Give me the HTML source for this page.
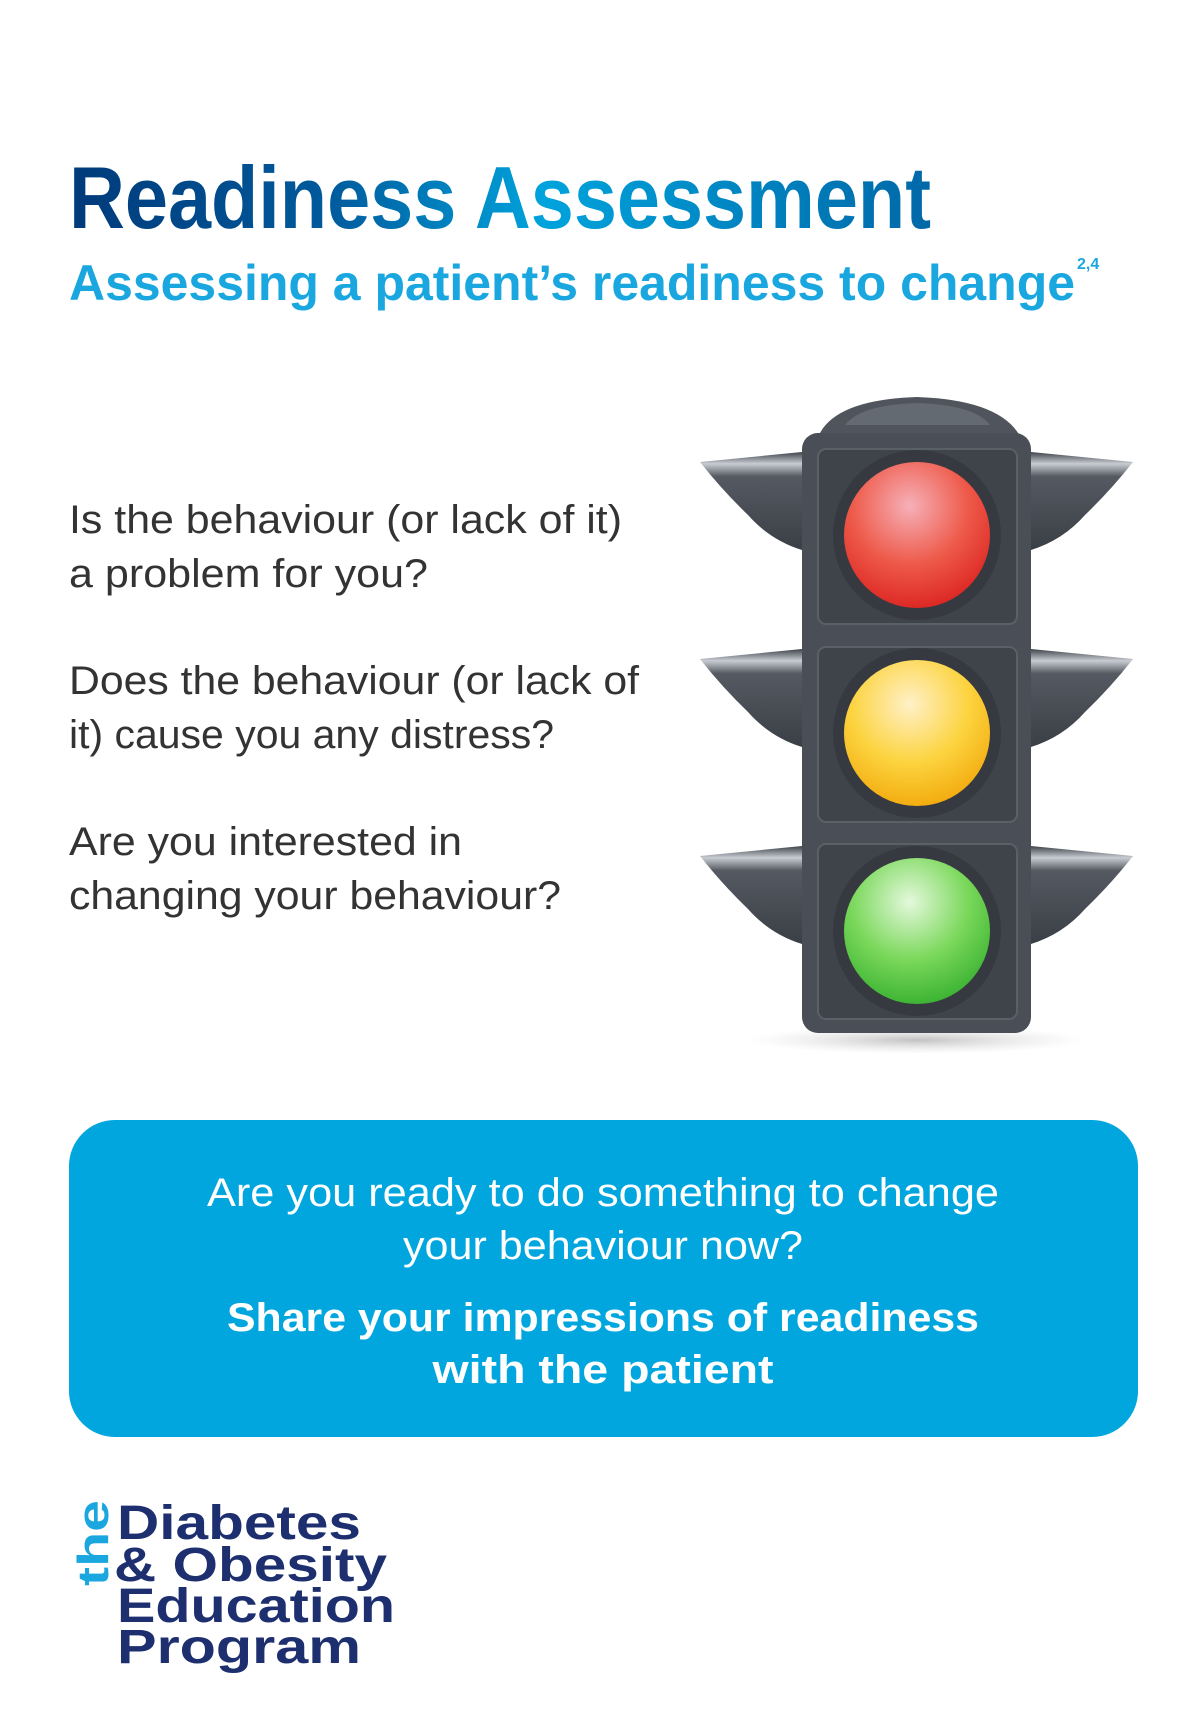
<!DOCTYPE html>
<html><head><meta charset="utf-8"><style>
html,body{margin:0;padding:0;background:#fff;}
svg{display:block;}
text{font-family:"Liberation Sans",sans-serif;}
</style></head><body>
<svg width="1200" height="1733" viewBox="0 0 1200 1733">
<defs>
<linearGradient id="tg" x1="69" x2="931" y1="0" y2="0" gradientUnits="userSpaceOnUse">
<stop offset="0" stop-color="#003a7a"/><stop offset="0.3" stop-color="#005a9c"/><stop offset="0.55" stop-color="#00a3dc"/><stop offset="1" stop-color="#0068a8"/></linearGradient>
<linearGradient id="vis" x1="0" x2="0" y1="0" y2="1"><stop offset="0" stop-color="#3e434a"/><stop offset="0.12" stop-color="#c8ccd2"/><stop offset="0.25" stop-color="#555a62"/><stop offset="1" stop-color="#3a3f46"/></linearGradient>
<radialGradient id="red" cx="0.45" cy="0.3" r="0.8"><stop offset="0" stop-color="#f6b0b8"/><stop offset="0.5" stop-color="#ee5a4a"/><stop offset="1" stop-color="#d81818"/></radialGradient>
<radialGradient id="yel" cx="0.45" cy="0.3" r="0.8"><stop offset="0" stop-color="#fff0c8"/><stop offset="0.5" stop-color="#fcd440"/><stop offset="1" stop-color="#f0a000"/></radialGradient>
<radialGradient id="grn" cx="0.45" cy="0.3" r="0.8"><stop offset="0" stop-color="#e4f8dc"/><stop offset="0.5" stop-color="#7ad85a"/><stop offset="1" stop-color="#2aa828"/></radialGradient>
<radialGradient id="sh" cx="0.5" cy="0.5" r="0.5"><stop offset="0" stop-color="#999" stop-opacity="0.6"/><stop offset="1" stop-color="#ccc" stop-opacity="0"/></radialGradient>
</defs>

<text x="69" y="228" font-size="88" font-weight="bold" fill="url(#tg)" textLength="862" lengthAdjust="spacingAndGlyphs">Readiness Assessment</text>
<text x="69" y="300" font-size="50" font-weight="bold" fill="#1aa7e0" textLength="1006" lengthAdjust="spacingAndGlyphs">Assessing a patient’s readiness to change</text>
<text x="1077" y="269" font-size="16" font-weight="bold" fill="#1aa7e0">2,4</text>

<g font-size="40" fill="#333">
<text x="69" y="533" textLength="553" lengthAdjust="spacingAndGlyphs">Is the behaviour (or lack of it)</text>
<text x="69" y="587" textLength="359" lengthAdjust="spacingAndGlyphs">a problem for you?</text>
<text x="69" y="694" textLength="570" lengthAdjust="spacingAndGlyphs">Does the behaviour (or lack of</text>
<text x="69" y="748" textLength="485" lengthAdjust="spacingAndGlyphs">it) cause you any distress?</text>
<text x="69" y="855" textLength="393" lengthAdjust="spacingAndGlyphs">Are you interested in</text>
<text x="69" y="909" textLength="492" lengthAdjust="spacingAndGlyphs">changing your behaviour?</text>
</g>

<g>
<ellipse cx="917" cy="1040" rx="170" ry="14" fill="url(#sh)"/>
<path d="M817,440 Q830,400 917,397 Q1004,400 1022,440 Z" fill="#50555d"/>
<path d="M845,425 Q860,405 917,403 Q975,405 990,425 Z" fill="#646a72"/>
<g id="row">
<path d="M700,462 L802,452 L802,550 Q770,540 748,515 Q722,490 700,462 Z" fill="url(#vis)"/>
<path d="M1133,462 L1031,452 L1031,550 Q1063,540 1085,515 Q1111,490 1133,462 Z" fill="url(#vis)"/>
</g>
<use href="#row" y="197"/>
<use href="#row" y="394"/>
<rect x="802" y="433" width="229" height="600" rx="16" fill="#4a4f57"/>
<rect x="818" y="449" width="199" height="175" rx="8" fill="#3f444b" stroke="#5a6068" stroke-width="2"/>
<rect x="818" y="647" width="199" height="175" rx="8" fill="#3f444b" stroke="#5a6068" stroke-width="2"/>
<rect x="818" y="844" width="199" height="175" rx="8" fill="#3f444b" stroke="#5a6068" stroke-width="2"/>
<ellipse cx="917" cy="535" rx="84" ry="85" fill="#363a40"/>
<ellipse cx="917" cy="535" rx="73" ry="73" fill="url(#red)"/>
<ellipse cx="917" cy="733" rx="84" ry="85" fill="#363a40"/>
<ellipse cx="917" cy="733" rx="73" ry="73" fill="url(#yel)"/>
<ellipse cx="917" cy="931" rx="84" ry="85" fill="#363a40"/>
<ellipse cx="917" cy="931" rx="73" ry="73" fill="url(#grn)"/>
</g>

<rect x="69" y="1120" width="1069" height="317" rx="46" fill="#00a6dd"/>
<g fill="#fff" font-size="40" text-anchor="middle">
<text x="603" y="1206" textLength="792" lengthAdjust="spacingAndGlyphs">Are you ready to do something to change</text>
<text x="603" y="1259" textLength="400" lengthAdjust="spacingAndGlyphs">your behaviour now?</text>
<text x="603" y="1331" font-weight="bold" textLength="752" lengthAdjust="spacingAndGlyphs">Share your impressions of readiness</text>
<text x="603" y="1383" font-weight="bold" textLength="341" lengthAdjust="spacingAndGlyphs">with the patient</text>
</g>

<g fill="#1d2f6f" font-weight="900">
<text transform="translate(108,1586) rotate(-90)" font-size="44" font-weight="bold" fill="#1aa7e0" textLength="86" lengthAdjust="spacingAndGlyphs">the</text>
<text x="117" y="1539" font-size="48" textLength="244" lengthAdjust="spacingAndGlyphs">Diabetes</text>
<text x="114" y="1581" font-size="48" textLength="273" lengthAdjust="spacingAndGlyphs">&amp; Obesity</text>
<text x="117" y="1622" font-size="48" textLength="278" lengthAdjust="spacingAndGlyphs">Education</text>
<text x="117" y="1663" font-size="48" textLength="244" lengthAdjust="spacingAndGlyphs">Program</text>
</g>
</svg>
</body></html>
